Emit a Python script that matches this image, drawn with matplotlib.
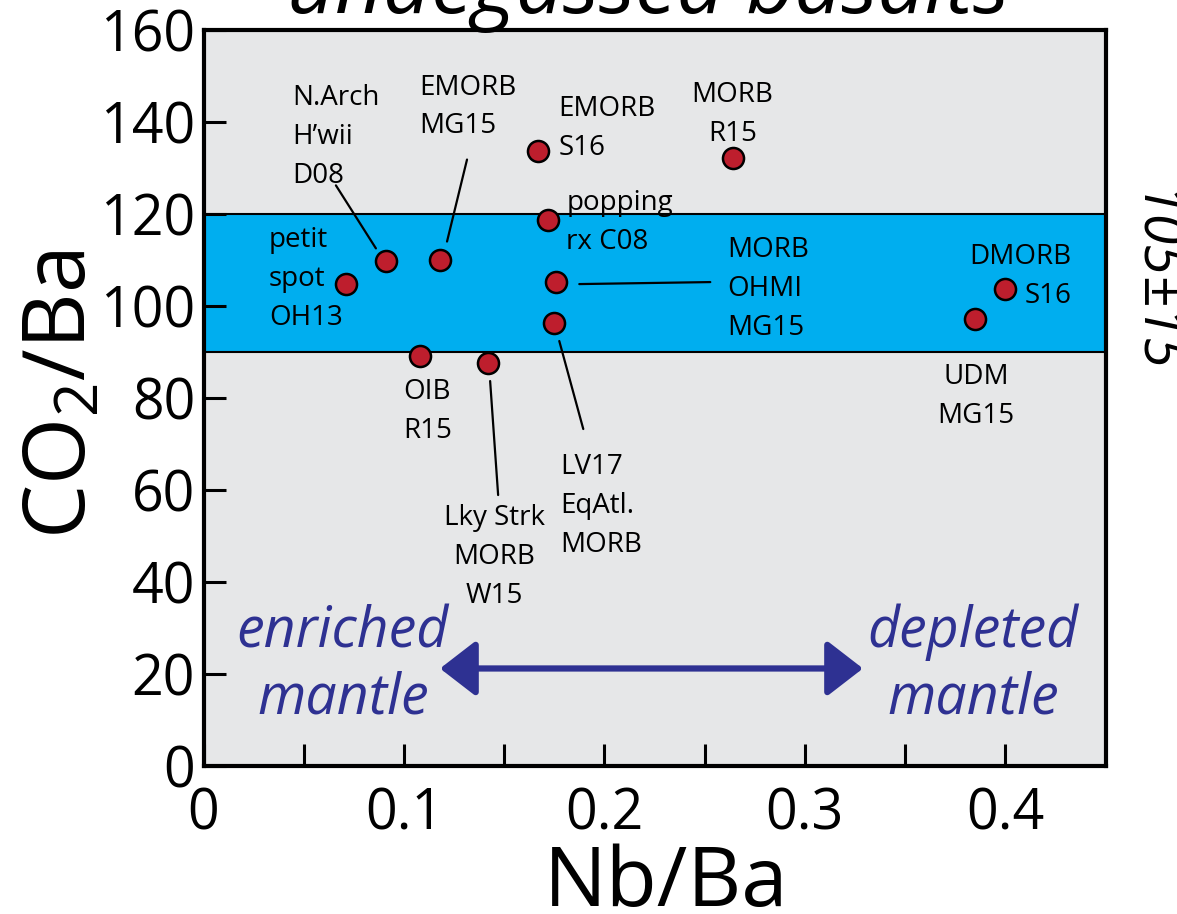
import matplotlib
matplotlib.use("Agg")
import matplotlib.pyplot as plt
from matplotlib.text import OffsetFrom

plt.rcParams['font.family'] = ['Open Sans', 'DejaVu Sans']
plt.rcParams['mathtext.fontset'] = 'custom'
plt.rcParams['mathtext.rm'] = 'Open Sans'
plt.rcParams['mathtext.default'] = 'regular'

# data
labels = ['petit\nspot\nOH13', 'N.Arch\nH\u2019wii\nD08', 'EMORB\nMG15', 'OIB\nR15',
          'Lky Strk\nMORB\nW15', 'EMORB\nS16', 'popping\nrx C08', 'MORB\nOHMI\nMG15',
          'LV17\nEqAtl.\nMORB', 'MORB\nR15', 'DMORB\nS16', 'UDM\nMG15']
nb_ba = [0.071, 0.091, 0.118, 0.108, 0.142, 0.167, 0.172, 0.176, 0.175, 0.264, 0.400, 0.385]
co2_ba = [104.7, 109.7, 110.1, 89.1, 87.6, 133.6, 118.6, 105.2, 96.3, 132.2, 103.6, 97.1]
band_mid = 105
band_half = 15

# label placement: text offset (px from point), alignment, leader line offsets
placement = [
    ((-77, 58), 'left', None),
    ((-94, 177), 'left', ((-50, 76), (-10, 13))),
    ((-21, 186), 'left', ((27, 100), (7, 18))),
    ((-17, -22), 'left', None),
    ((6, -141), 'center', ((2, -18), (10, -132))),
    ((20, 56), 'left', None),
    ((18, 31), 'left', None),
    ((171, 46), 'left', ((23, -2), (154, 0))),
    ((6, -130), 'left', ((5, -18), (29, -106))),
    ((0, 77), 'center', None),
    ((66, 46), 'right', None),
    ((1, -44), 'center', None),
]

fig = plt.figure(figsize=(11.77, 9.14), dpi=100)
ax = fig.add_axes([203.5 / 1177, 1 - 766 / 914, 902 / 1177, 736 / 914])
ax.set_facecolor('#E6E7E8')
ax.set_xlim(0, 0.45)
ax.set_ylim(0, 160)

ax.axhspan(band_mid - band_half, band_mid + band_half, facecolor='#00AEEF',
           edgecolor='black', linewidth=1.5, zorder=1)

ax.scatter(nb_ba, co2_ba, s=230, color='#BE1E2D', edgecolor='black',
           linewidth=1.8, zorder=4)

for name, x, y, (toff, ha, line) in zip(labels, nb_ba, co2_ba, placement):
    ref = OffsetFrom(ax.transData, (x, y), unit='pixels')
    ax.annotate(name, xy=toff, xycoords=ref, ha=ha, va='top', multialignment=ha,
                fontsize=20, linespacing=1.52, zorder=5)
    if line is not None:
        ax.annotate('', xy=line[1], xycoords=ref, xytext=line[0], textcoords=ref,
                    arrowprops=dict(arrowstyle='-', color='black', lw=1.6,
                                    shrinkA=0, shrinkB=0), zorder=3)

# enriched / depleted arrow
blue = '#2E3192'
ax.annotate('', xy=(0.329, 21.2), xytext=(0.118, 21.2),
            arrowprops=dict(arrowstyle='<|-|>,head_length=2.2,head_width=1.7',
                            color=blue, lw=4.5, shrinkA=0, shrinkB=0))
for txt, xc, yc in [('enriched', 0.0695, 29), ('mantle', 0.0695, 14.5),
                    ('depleted', 0.384, 29), ('mantle', 0.384, 14.5)]:
    ax.text(xc, yc, txt, color=blue, style='italic', fontsize=40,
            ha='center', va='center')

ax.set_xticks([0, 0.05, 0.1, 0.15, 0.2, 0.25, 0.3, 0.35, 0.4])
ax.set_xticklabels(['0', '', '0.1', '', '0.2', '', '0.3', '', '0.4'])
ax.set_yticks(range(0, 161, 20))
ax.tick_params(axis='both', direction='in', length=16, width=2.2, labelsize=40)
ax.tick_params(axis='x', pad=15)
ax.tick_params(axis='y', pad=6)
for sp in ax.spines.values():
    sp.set_linewidth(3)
    sp.set_zorder(6)

fig.text(666 / 1177, 1 - 906 / 914, 'Nb/Ba', fontsize=60, ha='center', va='baseline')
fig.text(85 / 1177, 1 - 395 / 914, 'CO$_2$/Ba', fontsize=62, rotation=90,
         rotation_mode='anchor', ha='center', va='baseline')
fig.text(1150 / 1177, 1 - 283 / 914, '105\u00b115', fontsize=40, style='italic',
         rotation=-90, ha='center', va='center')
fig.text(648 / 1177, 1 - 13 / 914, 'undegassed basalts', fontsize=60, style='italic',
         ha='center', va='baseline')

fig.savefig('out.png', dpi=100)
